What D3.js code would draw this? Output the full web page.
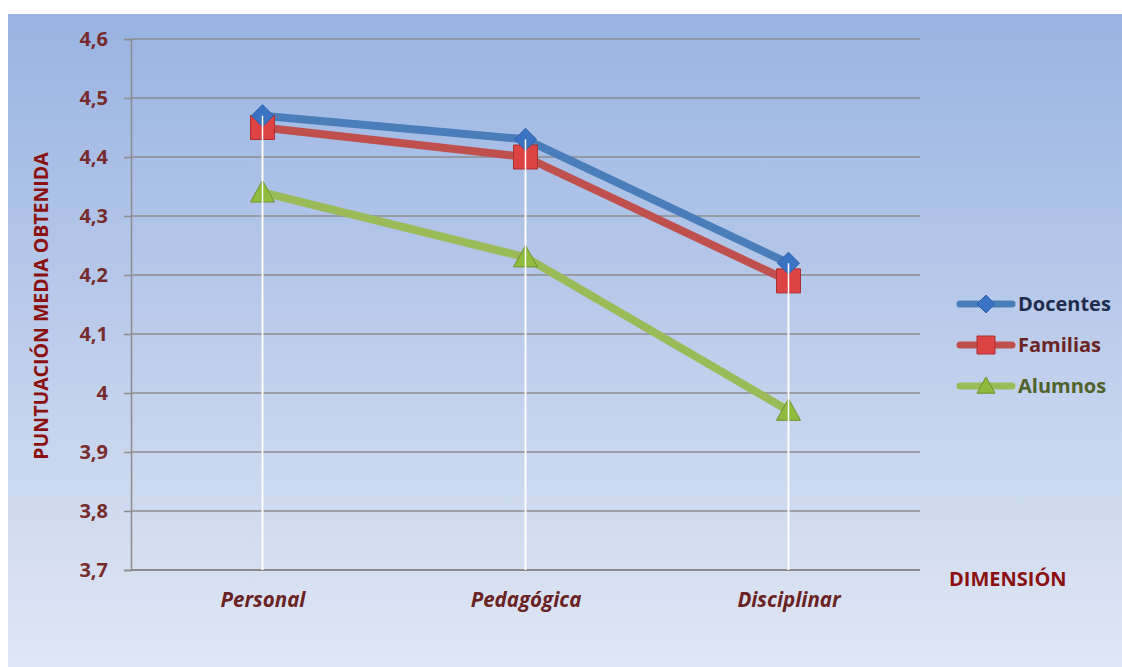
<!DOCTYPE html>
<html>
<head>
<meta charset="utf-8">
<script src="https://cdn.jsdelivr.net/npm/d3@7"></script>
<style>
  body { margin: 0; background: #fff; }
  svg { display: block; font-family: "Open Sans", "DejaVu Sans", sans-serif; }
</style>
</head>
<body>
<div id="chart"></div>
<script>
// data
const dimensions = ["Personal", "Pedagógica", "Disciplinar"];
const docentes = [4.47, 4.43, 4.22];
const familias = [4.45, 4.40, 4.19];
const alumnos = [4.34, 4.23, 3.97];
const yTicks = [3.7, 3.8, 3.9, 4.0, 4.1, 4.2, 4.3, 4.4, 4.5, 4.6];

const series = [
  { name: "Docentes", values: docentes, color: "#4a7ebb", text: "#1f2d4d", marker: "diamond" },
  { name: "Familias", values: familias, color: "#c0504d", text: "#6b2424", marker: "square" },
  { name: "Alumnos", values: alumnos, color: "#9bbb59", text: "#4f6228", marker: "triangle" }
];

const W = 1122, H = 667;
const plot = { left: 131, right: 920, top: 39, bottom: 570 };

const svg = d3.select("#chart").append("svg")
  .attr("width", W).attr("height", H);

const defs = svg.append("defs");
const bg = defs.append("linearGradient").attr("id", "bg")
  .attr("x1", 0).attr("y1", 0).attr("x2", 0).attr("y2", 1);
bg.append("stop").attr("offset", "0%").attr("stop-color", "#99b3e2");
bg.append("stop").attr("offset", "100%").attr("stop-color", "#e0e7f4");

svg.append("rect")
  .attr("x", 8).attr("y", 14)
  .attr("width", W - 8).attr("height", H - 14)
  .attr("fill", "url(#bg)");

const x = d3.scalePoint()
  .domain(dimensions)
  .range([plot.left, plot.right])
  .padding(0.5);

const y = d3.scaleLinear()
  .domain([3.7, 4.6])
  .range([plot.bottom, plot.top]);

const fmt = d => d3.format(".1f")(d).replace(".0", "").replace(".", ",");

// gridlines
svg.append("g")
  .selectAll("line")
  .data(yTicks.slice(1))
  .join("line")
  .attr("x1", plot.left).attr("x2", plot.right)
  .attr("y1", d => y(d)).attr("y2", d => y(d))
  .attr("stroke", "#8c8c8c").attr("stroke-width", 1.5);

// y axis
const yAxis = svg.append("g")
  .attr("transform", `translate(${plot.left},0)`)
  .call(d3.axisLeft(y).tickValues(yTicks).tickFormat(fmt).tickSize(7).tickPadding(16));
yAxis.select(".domain").attr("stroke", "#8c8c8c").attr("stroke-width", 1.5);
yAxis.selectAll(".tick line").attr("stroke", "#8c8c8c").attr("stroke-width", 1.5);
yAxis.selectAll(".tick text")
  .attr("fill", "#772b2b")
  .attr("font-size", 20)
  .attr("font-weight", "bold")
  .attr("font-family", "Open Sans, sans-serif");

// x axis
const xAxis = svg.append("g")
  .attr("transform", `translate(0,${plot.bottom})`)
  .call(d3.axisBottom(x).tickSize(0).tickPadding(22));
xAxis.select(".domain").attr("stroke", "#8c8c8c").attr("stroke-width", 2)
  .attr("d", `M${plot.left},0H${plot.right}`);
xAxis.selectAll(".tick text")
  .attr("fill", "#6b2222")
  .attr("font-size", 20.5)
  .attr("font-weight", "bold")
  .attr("font-style", "italic")
  .attr("font-family", "Open Sans, sans-serif");

function dropLines() {
  svg.append("g")
    .selectAll("line")
    .data(dimensions)
    .join("line")
    .attr("x1", d => x(d)).attr("x2", d => x(d))
    .attr("y1", (d, i) => y(d3.max(series, s => s.values[i])))
    .attr("y2", plot.bottom)
    .attr("stroke", "#ffffff").attr("stroke-width", 1.5);
}
dropLines();

function markerPath(type, size) {
  const s = size / 2;
  if (type === "diamond") return `M0,${-s}L${s},0L0,${s}L${-s},0Z`;
  if (type === "square") return `M${-s},${-s}H${s}V${s}H${-s}Z`;
  return `M0,${-s}L${s},${s * 0.8}H${-s}Z`;
}

const line = d3.line()
  .x((d, i) => x(dimensions[i]))
  .y(d => y(d));

// draw from back to front
const drawOrder = [series[2], series[1], series[0]];
drawOrder.forEach(s => {
  svg.append("path")
    .datum(s.values)
    .attr("d", line)
    .attr("fill", "none")
    .attr("stroke", s.color)
    .attr("stroke-width", 8)
    .attr("stroke-linejoin", "round");
});

const markerColors = { diamond: ["#3b73c4", "#2c5fa8"], square: ["#dd4343", "#a93030"], triangle: ["#8fbc3f", "#6e932b"] };
drawOrder.forEach(s => {
  const size = s.marker === "diamond" ? 22 : 24;
  svg.append("g").selectAll("path")
    .data(s.values)
    .join("path")
    .attr("transform", (d, i) => `translate(${x(dimensions[i])},${y(d)})`)
    .attr("d", markerPath(s.marker, size))
    .attr("fill", markerColors[s.marker][0])
    .attr("stroke", markerColors[s.marker][1])
    .attr("stroke-width", 1);
});

// drop lines show through the markers in the original
dropLines();

// y title
svg.append("text")
  .attr("transform", `translate(48,306) rotate(-90)`)
  .attr("text-anchor", "middle")
  .attr("fill", "#8b1010")
  .attr("font-size", 19.5)
  .attr("font-weight", "bold")
  .text("PUNTUACIÓN MEDIA OBTENIDA");

// x title
svg.append("text")
  .attr("x", 949).attr("y", 586)
  .attr("fill", "#8b1010")
  .attr("font-size", 20)
  .attr("font-weight", "bold")
  .text("DIMENSIÓN");

// legend
const legend = svg.append("g").attr("transform", "translate(958,304)");
series.forEach((s, i) => {
  const g = legend.append("g").attr("transform", `translate(0,${i * 41})`);
  g.append("line")
    .attr("x1", 2).attr("x2", 54)
    .attr("stroke", s.color).attr("stroke-width", 7)
    .attr("stroke-linecap", "round");
  g.append("path")
    .attr("transform", "translate(28,0)")
    .attr("d", markerPath(s.marker, 18))
    .attr("fill", markerColors[s.marker][0])
    .attr("stroke", markerColors[s.marker][1]);
  g.append("text")
    .attr("x", 60).attr("y", 7)
    .attr("fill", s.text)
    .attr("font-size", 20)
    .attr("font-weight", "bold")
    .text(s.name);
});
</script>
</body>
</html>
